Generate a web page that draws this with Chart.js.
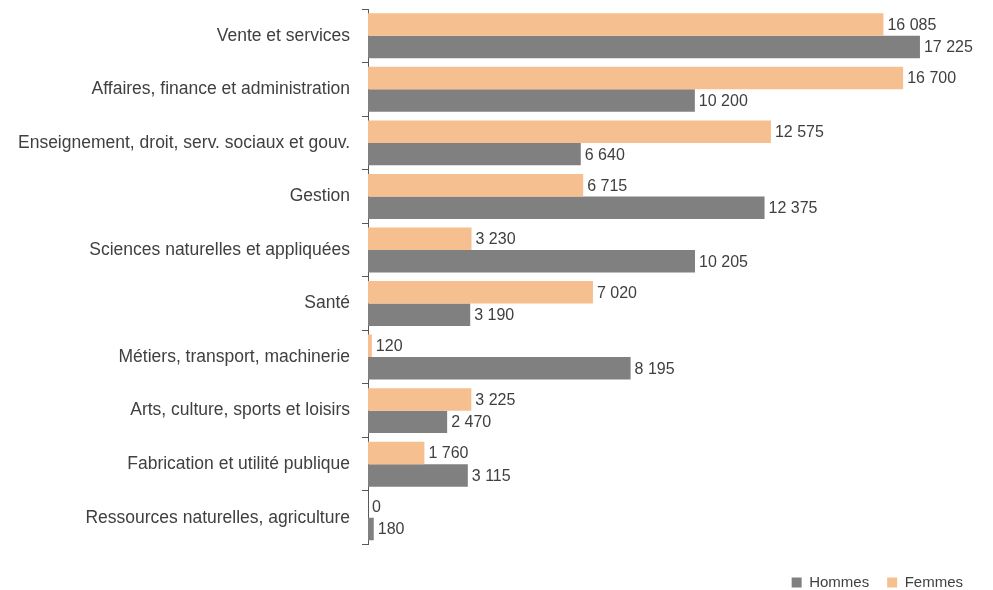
<!DOCTYPE html>
<html lang="fr">
<head>
    <meta charset="UTF-8">
    <title>Professions par sexe</title>
    <script src="https://cdn.jsdelivr.net/npm/chart.js"></script>
    <style>
        html, body { margin: 0; padding: 0; background: #fff; }
        #wrap { width: 993px; height: 590px; position: relative; }
    </style>
</head>
<body>
    <div id="wrap">
        <canvas id="chart"></canvas>
    </div>

    <script>
    const categories = [
        'Vente et services',
        'Affaires, finance et administration',
        'Enseignement, droit, serv. sociaux et gouv.',
        'Gestion',
        'Sciences naturelles et appliquées',
        'Santé',
        'Métiers, transport, machinerie',
        'Arts, culture, sports et loisirs',
        'Fabrication et utilité publique',
        'Ressources naturelles, agriculture'
    ];
    const femmes = [16085, 16700, 12575, 6715, 3230, 7020, 120, 3225, 1760, 0];
    const hommes = [17225, 10200, 6640, 12375, 10205, 3190, 8195, 2470, 3115, 180];

    const FONT = "'Liberation Sans', Arial, sans-serif";

    function fmt(v) {
        return String(v).replace(/\B(?=(\d{3})+(?!\d))/g, ' ');
    }

    // draws the value right after the end of each bar
    const valueLabels = {
        id: 'valueLabels',
        afterDatasetsDraw(chart) {
            const ctx = chart.ctx;
            ctx.save();
            ctx.font = '16px ' + FONT;
            ctx.fillStyle = '#404040';
            ctx.textAlign = 'left';
            ctx.textBaseline = 'middle';
            chart.data.datasets.forEach((ds, i) => {
                chart.getDatasetMeta(i).data.forEach((bar, j) => {
                    ctx.fillText(fmt(ds.data[j]), bar.x + 4, bar.y + 1);
                });
            });
            ctx.restore();
        }
    };

    const ctx = document.getElementById('chart').getContext('2d');
    new Chart(ctx, {
        type: 'bar',
        data: {
            labels: categories,
            datasets: [
                { label: 'Femmes', data: femmes, backgroundColor: '#F5BF8F' },
                { label: 'Hommes', data: hommes, backgroundColor: '#808080' }
            ]
        },
        options: {
            indexAxis: 'y',
            responsive: true,
            maintainAspectRatio: false,
            animation: false,
            categoryPercentage: 0.84,
            barPercentage: 1,
            layout: { padding: { top: 9, right: 12, left: 0, bottom: -10 } },
            scales: {
                x: {
                    display: false,
                    min: 0,
                    max: 19130
                },
                y: {
                    afterFit: (scale) => {
                        scale.width = 368;
                        scale.paddingTop = 0;
                        scale.paddingBottom = 0;
                    },
                    grid: {
                        offset: true,
                        drawOnChartArea: false,
                        tickLength: 6,
                        color: '#595959'
                    },
                    border: { color: '#595959', width: 1 },
                    ticks: {
                        padding: 12,
                        color: '#404040',
                        font: { family: FONT, size: 17.5 }
                    }
                }
            },
            plugins: {
                tooltip: { enabled: false },
                legend: {
                    position: 'bottom',
                    align: 'end',
                    reverse: true,
                    title: {
                        display: true,
                        text: '',
                        padding: 0,
                        font: { size: 10, lineHeight: 1.25 }
                    },
                    labels: {
                        boxWidth: 10,
                        boxHeight: 10,
                        padding: 18,
                        color: '#404040',
                        font: { family: FONT, size: 15 }
                    }
                }
            }
        },
        plugins: [valueLabels]
    });
    </script>
</body>
</html>
